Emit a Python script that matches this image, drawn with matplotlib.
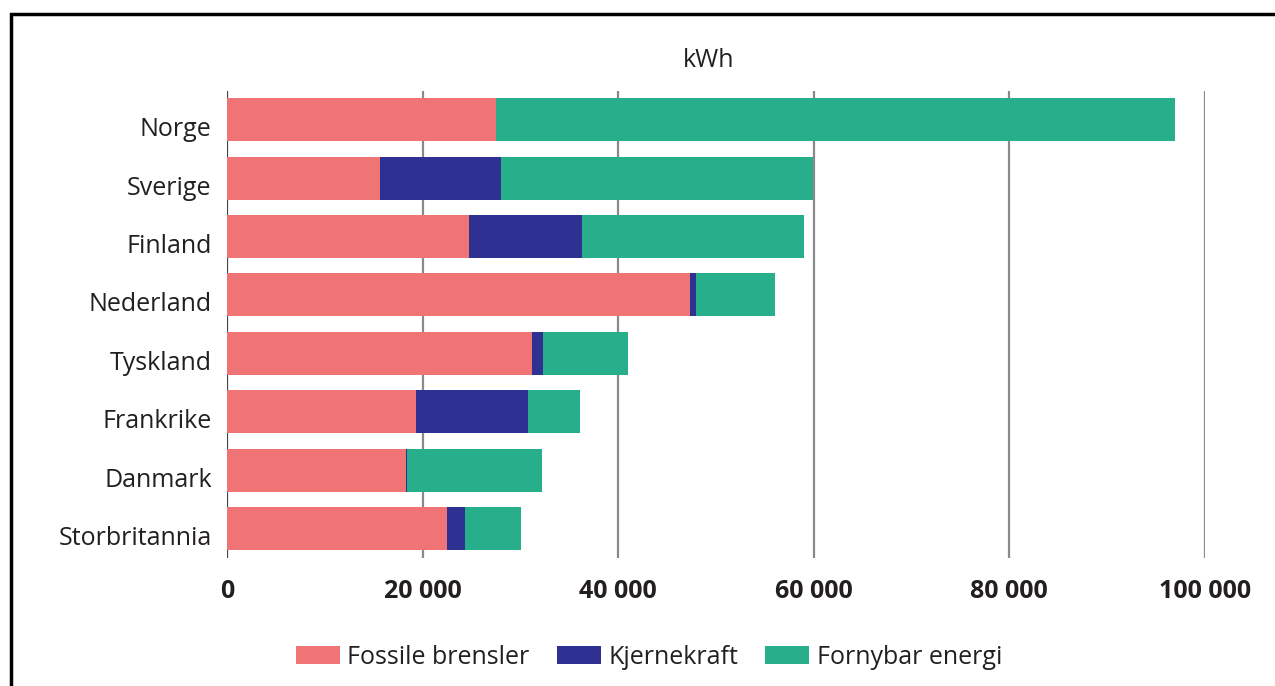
import matplotlib.pyplot as plt
import matplotlib.transforms as mtransforms
from matplotlib.patches import Rectangle
import numpy as np

plt.rcParams["font.family"] = ["Open Sans", "DejaVu Sans"]

countries = ["Norge", "Sverige", "Finland", "Nederland", "Tyskland",
             "Frankrike", "Danmark", "Storbritannia"]
fossil = [27500, 15700, 24800, 47300, 31200, 19300, 18300, 22500]
nuclear = [0, 12300, 11500, 700, 1100, 11500, 100, 1800]
renewable = [69400, 31900, 22700, 8000, 8700, 5300, 13800, 5800]

series = [
    ("Fossile brensler", fossil, "#F07476"),
    ("Kjernekraft", nuclear, "#2E3192"),
    ("Fornybar energi", renewable, "#27AE8B"),
]
xticks = [0, 20000, 40000, 60000, 80000, 100000]

fig = plt.figure(figsize=(12.75, 6.86), dpi=100)
ax = fig.add_axes([0.178, 0.187, 0.767, 0.681])

y = np.arange(len(countries))
left = np.zeros(len(countries))
for label, vals, color in series:
    ax.barh(y, vals, left=left, height=0.736, color=color, label=label, zorder=3)
    left += np.array(vals)

ax.set_ylim(len(countries) - 0.5, -0.5)
ax.set_xlim(0, 100000)
ax.set_yticks(y)
ax.set_yticklabels(countries, fontsize=18, color="#231F20")
ax.set_xticks(xticks)
ax.set_xticklabels([f"{v:,}".replace(",", " ") for v in xticks],
                   fontsize=18, fontweight="bold", color="#231F20")
ax.tick_params(axis="both", length=0)
ax.tick_params(axis="x", pad=15)
ax.tick_params(axis="y", pad=11)
# category labels sit a little below the bar centres
shift = mtransforms.ScaledTranslation(0, -7 / 100, fig.dpi_scale_trans)
for t in ax.get_yticklabels():
    t.set_transform(t.get_transform() + shift)
for s in ax.spines.values():
    s.set_visible(False)
for v in xticks:
    ax.axvline(v, color="#444444" if v == 0 else "#8a8a8a", lw=1.6, zorder=1)

ax.text(0.493, 1.065, "kWh", transform=ax.transAxes, ha="center", va="center",
        fontsize=18, color="#231F20")

handles, labels = ax.get_legend_handles_labels()
fig.legend(handles, labels, loc="center", bbox_to_anchor=(0.509, 0.042), ncol=3,
           frameon=False, fontsize=18, handlelength=1.75, handleheight=0.75,
           handletextpad=0.3, columnspacing=1.1, labelcolor="#231F20")

fig.patches.append(Rectangle((11 / 1275, -0.1), 1.2, 1 - 14 / 686 + 0.1,
                             transform=fig.transFigure, fill=False,
                             edgecolor="black", lw=2.5))

fig.savefig("out.png", dpi=100)
